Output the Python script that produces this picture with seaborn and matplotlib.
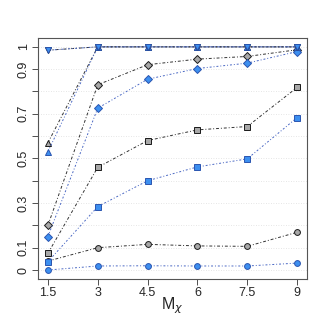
import pandas as pd
import seaborn as sns
import matplotlib.pyplot as plt

# x positions (M_chi)
m_chi = [1.5, 3, 4.5, 6, 7.5, 9]

# series values
tri_down_grey = [0.985, 1.0, 1.0, 1.0, 1.0, 1.0]
tri_down_blue = [0.985, 1.0, 1.0, 1.0, 1.0, 1.0]
tri_up_grey = [0.57, 1.0, 1.0, 1.0, 1.0, 1.0]
tri_up_blue = [0.53, 1.0, 1.0, 1.0, 1.0, 1.0]
diamond_grey = [0.20, 0.83, 0.92, 0.945, 0.957, 0.987]
diamond_blue = [0.15, 0.725, 0.855, 0.903, 0.927, 0.979]
square_grey = [0.075, 0.46, 0.58, 0.628, 0.643, 0.818]
square_blue = [0.037, 0.284, 0.40, 0.462, 0.498, 0.683]
circle_grey = [0.04, 0.10, 0.115, 0.108, 0.106, 0.169]
circle_blue = [0.0, 0.018, 0.019, 0.018, 0.018, 0.031]

y_ticks = [0, 0.1, 0.2, 0.3, 0.4, 0.5, 0.6, 0.7, 0.8, 0.9, 1.0]
y_labels = ["0", "0.1", "", "0.3", "", "0.5", "", "0.7", "", "0.9", "1"]
x_ticks = [1.5, 3, 4.5, 6, 7.5, 9]
x_labels = ["1.5", "3", "4.5", "6", "7.5", "9"]

sns.set_theme(style="ticks")
plt.rcParams['font.family'] = ['Liberation Sans', 'DejaVu Sans']

grey_line, grey_fill, grey_edge = "#333333", "#a8a8a8", "#1a1a1a"
blue_line, blue_fill, blue_edge = "#4a68c4", "#3d8fef", "#2a55b0"

series = [
    (circle_grey, "o", 4.2, "grey"),
    (circle_blue, "o", 4.2, "blue"),
    (square_grey, "s", 3.9, "grey"),
    (square_blue, "s", 3.9, "blue"),
    (diamond_grey, "D", 3.7, "grey"),
    (diamond_blue, "D", 3.7, "blue"),
    (tri_up_grey, "^", 5.0, "grey"),
    (tri_up_blue, "^", 5.0, "blue"),
    (tri_down_grey, "v", 5.0, "grey"),
    (tri_down_blue, "v", 5.0, "blue"),
]

fig = plt.figure(figsize=(3.27, 3.27), dpi=100)
ax = fig.add_axes([0.116, 0.147, 0.823, 0.737])

for vals, mk, ms, kind in series:
    if kind == "grey":
        lc, fc, ec, dash = grey_line, grey_fill, grey_edge, (0, (3, 2, 1, 2))
    else:
        lc, fc, ec, dash = blue_line, blue_fill, blue_edge, (0, (2, 2, 1, 2))
    df = pd.DataFrame({"x": m_chi, "y": vals})
    sns.lineplot(data=df, x="x", y="y", ax=ax, color=lc, linewidth=0.7,
                 linestyle=dash, marker=mk, markersize=ms,
                 markerfacecolor=fc, markeredgecolor=ec, markeredgewidth=0.7)

ax.set_xlim(1.2, 9.3)
ax.set_ylim(-0.04, 1.04)
for yv in y_ticks:
    ax.axhline(yv, color="#dddddd", linewidth=0.6, linestyle=(0, (1, 2)), zorder=0)

ax.set_xticks(x_ticks)
ax.set_xticklabels(x_labels, fontsize=9)
ax.set_yticks(y_ticks)
ax.set_yticklabels(y_labels, fontsize=9, rotation=90, va="center")
ax.tick_params(axis="both", length=4, width=0.6, color="#333333", pad=2)
ax.set_xlabel(r"M$_\chi$", fontsize=11.5, labelpad=-3)
ax.set_ylabel("")
for sp in ax.spines.values():
    sp.set_color("#555555")
    sp.set_linewidth(0.8)

fig.savefig("out.png", dpi=100)
